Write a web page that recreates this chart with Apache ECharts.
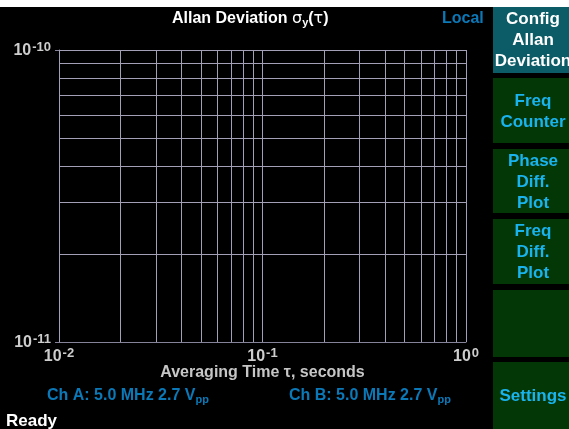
<!DOCTYPE html>
<html>
<head>
<meta charset="utf-8">
<script src="https://cdn.jsdelivr.net/npm/echarts@6/dist/echarts.min.js"></script>
<style>
  html, body { margin: 0; padding: 0; background: #000; }
  #chart { width: 569px; height: 429px; }
</style>
</head>
<body>
<div id="chart"></div>
<script>
  // axis ranges (log-log, empty plot)
  var xRange = [0.01, 1];
  var yRange = [1e-11, 1e-10];
  // minor grid lines at 2..9 of each decade
  var xMinorGrid = [0.02, 0.03, 0.04, 0.05, 0.06, 0.07, 0.08, 0.09,
                    0.2, 0.3, 0.4, 0.5, 0.6, 0.7, 0.8, 0.9];
  var yMinorGrid = [2e-11, 3e-11, 4e-11, 5e-11, 6e-11, 7e-11, 8e-11, 9e-11];
  var sigmaData = [];   // no measurement yet

  var softkeys = [
    { lines: ["Config", "Allan", "Deviation"], active: true },
    { lines: ["Freq", "Counter"] },
    { lines: ["Phase", "Diff.", "Plot"] },
    { lines: ["Freq", "Diff.", "Plot"] },
    { lines: [] },
    { lines: ["Settings"] }
  ];
  var keyTops = [7, 78, 149, 219, 290, 362];
  var keyBottoms = [73, 143, 213, 284, 357, 429];

  var FONT = "'Liberation Sans', Arial, sans-serif";
  var GRID = "#a29fb6";
  var AXIS = "#85839a";
  var LABEL = "#cdcdcd";
  var BLUE = "#0b79b8";
  var CYAN = "#19b3ee";

  function powLabel(v) {
    var e = Math.round(Math.log10(v));
    return "{b|10}{s|" + (e < 0 ? "-" + (-e) : e) + "}";
  }
  var powRich = {
    b: { fontFamily: FONT, fontWeight: "bold", fontSize: 16, color: LABEL, verticalAlign: "bottom", lineHeight: 18 },
    s: { fontFamily: FONT, fontWeight: "bold", fontSize: 13, color: LABEL, verticalAlign: "top", lineHeight: 18, padding: [0, 0, 6, 1] }
  };

  var graphics = [
    { type: "rect", shape: { x: 0, y: 0, width: 569, height: 7 }, style: { fill: "#fff" } },
    {
      type: "text", left: 172, top: 11,
      style: {
        text: "{t|Allan Deviation }{g|\u03c3}{sub|y}{t|(}{g|\u03c4}{t|)}",
        rich: {
          t: { fontFamily: FONT, fontWeight: "bold", fontSize: 16, fill: "#fff" },
          g: { fontFamily: "'DejaVu Sans', sans-serif", fontSize: 16, fill: "#fff" },
          sub: { fontFamily: FONT, fontWeight: "bold", fontSize: 11, fill: "#fff", padding: [8, 0, 0, 0] }
        }
      }
    },
    { type: "text", left: 442, top: 11, style: { text: "Local", fontFamily: FONT, fontWeight: "bold", fontSize: 16, fill: BLUE } },
    {
      type: "text", left: 47, top: 388,
      style: {
        text: "{t|Ch A: 5.0 MHz 2.7 V}{s|pp}",
        rich: {
          t: { fontFamily: FONT, fontWeight: "bold", fontSize: 16, fill: BLUE },
          s: { fontFamily: FONT, fontWeight: "bold", fontSize: 11, fill: BLUE, padding: [7, 0, 0, 0] }
        }
      }
    },
    {
      type: "text", left: 289, top: 388,
      style: {
        text: "{t|Ch B: 5.0 MHz 2.7 V}{s|pp}",
        rich: {
          t: { fontFamily: FONT, fontWeight: "bold", fontSize: 16, fill: BLUE },
          s: { fontFamily: FONT, fontWeight: "bold", fontSize: 11, fill: BLUE, padding: [7, 0, 0, 0] }
        }
      }
    },
    { type: "text", left: 6, top: 413, style: { text: "Ready", fontFamily: FONT, fontWeight: "bold", fontSize: 17, fill: "#fff" } }
  ];

  softkeys.forEach(function (k, i) {
    var top = keyTops[i], h = keyBottoms[i] - top;
    graphics.push({
      type: "rect", shape: { x: 493, y: top, width: 76, height: h },
      style: { fill: k.active ? "#0b5c66" : "#033806" }
    });
    if (k.lines.length) {
      graphics.push({
        type: "text", x: 533, y: top + h / 2 + (k.active ? 0 : 1),
        style: {
          text: k.lines.join("\n"),
          align: "center", verticalAlign: "middle",
          fontFamily: FONT, fontWeight: "bold", fontSize: 17, lineHeight: 21,
          fill: k.active ? "#fff" : CYAN,
          textShadowColor: "rgba(0,0,0,0.8)", textShadowOffsetX: 1, textShadowOffsetY: 1
        }
      });
    }
  });

  var vLines = xMinorGrid.map(function (v) { return { xAxis: v }; });
  var hLines = yMinorGrid.map(function (v) {
    return [{ coord: [xRange[0], v] }, { coord: [xRange[1], v] }];
  });

  var chart = echarts.init(document.getElementById("chart"), null, { renderer: "canvas" });
  chart.setOption({
    backgroundColor: "#000",
    animation: false,
    grid: { left: 59, right: 103, top: 50, bottom: 87 },
    xAxis: {
      type: "log", logBase: 10, min: xRange[0], max: xRange[1],
      axisLine: { show: true, lineStyle: { color: AXIS, width: 1 } },
      axisTick: { show: false },
      splitLine: { show: true, lineStyle: { color: GRID, width: 1 } },
      axisLabel: { margin: 5, formatter: powLabel, rich: powRich },
      name: "Averaging Time \u03c4, seconds",
      nameLocation: "middle", nameGap: 23, nameMoveOverlap: false,
      nameTextStyle: { fontFamily: FONT, fontWeight: "bold", fontSize: 16, color: "#c6c6c6" }
    },
    yAxis: {
      type: "log", logBase: 10, min: yRange[0], max: yRange[1],
      axisLine: { show: true, lineStyle: { color: GRID, width: 1 } },
      axisTick: { show: true, length: 4, lineStyle: { color: AXIS } },
      splitLine: { show: true, lineStyle: { color: GRID, width: 1 } },
      axisLabel: { margin: 8, formatter: powLabel, rich: powRich }
    },
    series: [{
      type: "line",
      data: sigmaData,
      silent: true,
      markLine: {
        silent: true, symbol: "none", animation: false,
        label: { show: false },
        lineStyle: { color: GRID, width: 1, type: "solid" },
        data: vLines.concat(hLines)
      }
    }],
    graphic: graphics
  });
</script>
</body>
</html>
